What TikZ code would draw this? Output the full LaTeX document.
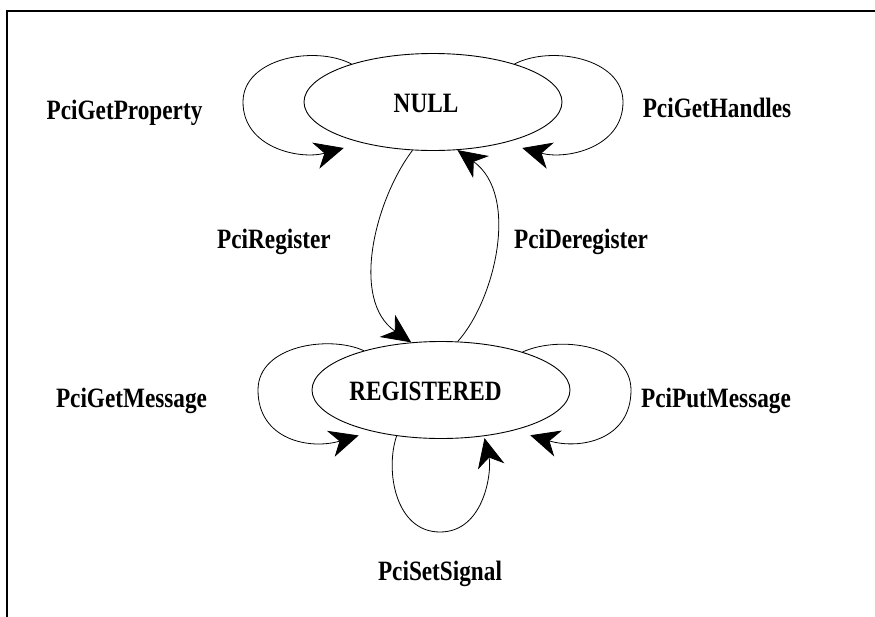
\documentclass[tikz,border=0pt]{standalone}
\usepackage{fontspec}
\setmainfont{Liberation Serif}[FakeStretch=0.83]
\usetikzlibrary{shapes.geometric,arrows.meta}
\begin{document}
\begin{tikzpicture}[x=1pt,y=-1pt,
  state/.style={draw,ellipse,line width=0.9pt,minimum width=258pt,minimum height=97pt,inner sep=0pt},
  statename/.style={font=\fontsize{28}{30}\selectfont\bfseries,anchor=base,inner sep=0pt},
  lbl/.style={font=\fontsize{28}{30}\selectfont\bfseries,anchor=base,inner sep=0pt},
  trans/.style={line width=0.8pt,-{Stealth[length=29pt,width=27pt,inset=9pt]}},
]
\useasboundingbox (0,0) rectangle (875,616);
\draw[line width=2.2pt] (7,11) rectangle (890,630);

% states
\node[state] (null) at (433,102) {};
\node[state] (reg)  at (441,390) {};
\node[statename] (nulltxt) at (426,112.5) {NULL};
\node[statename] (regtxt)  at (425.5,400) {REGISTERED};

% self loops on NULL
\draw[trans,shorten >=19pt] (null.155) .. controls (315,45) and (243,58) .. (243,102)
  .. controls (243,148) and (300,160) .. (null.210);
\draw[trans,shorten >=19pt] (null.25) .. controls (551,45) and (623,58) .. (623,102)
  .. controls (623,148) and (566,160) .. (null.330);

% NULL <-> REGISTERED
\draw[trans] (null.247) .. controls (375,200) and (350,300) .. (reg.122);
\draw[trans] (reg.71) .. controls (495,300) and (520,195) .. (null.297);

% self loops on REGISTERED
\draw[trans,shorten >=14pt] (reg.153) .. controls (330,335) and (258,345) .. (258,390)
  .. controls (258,440) and (310,450) .. (reg.211);
\draw[trans,shorten >=17pt] (reg.25) .. controls (560,335) and (631,345) .. (631,390)
  .. controls (631,440) and (580,450) .. (reg.331);
\draw[trans,shorten >=2pt] (reg.226) .. controls (385,470) and (395,532) .. (440,532)
  .. controls (485,532) and (492,470) .. (reg.313);

% transition labels
\node[lbl] (lgp) at (124.5,119) {PciGetProperty};
\node[lbl] (lgh) at (717,117.5) {PciGetHandles};
\node[lbl] (lrg) at (274,248) {PciRegister};
\node[lbl] (ldr) at (581,248) {PciDeregister};
\node[lbl] (lgm) at (131.5,407) {PciGetMessage};
\node[lbl] (lpm) at (716,407) {PciPutMessage};
\node[lbl] (lss) at (440,580) {PciSetSignal};
\end{tikzpicture}
\end{document}
